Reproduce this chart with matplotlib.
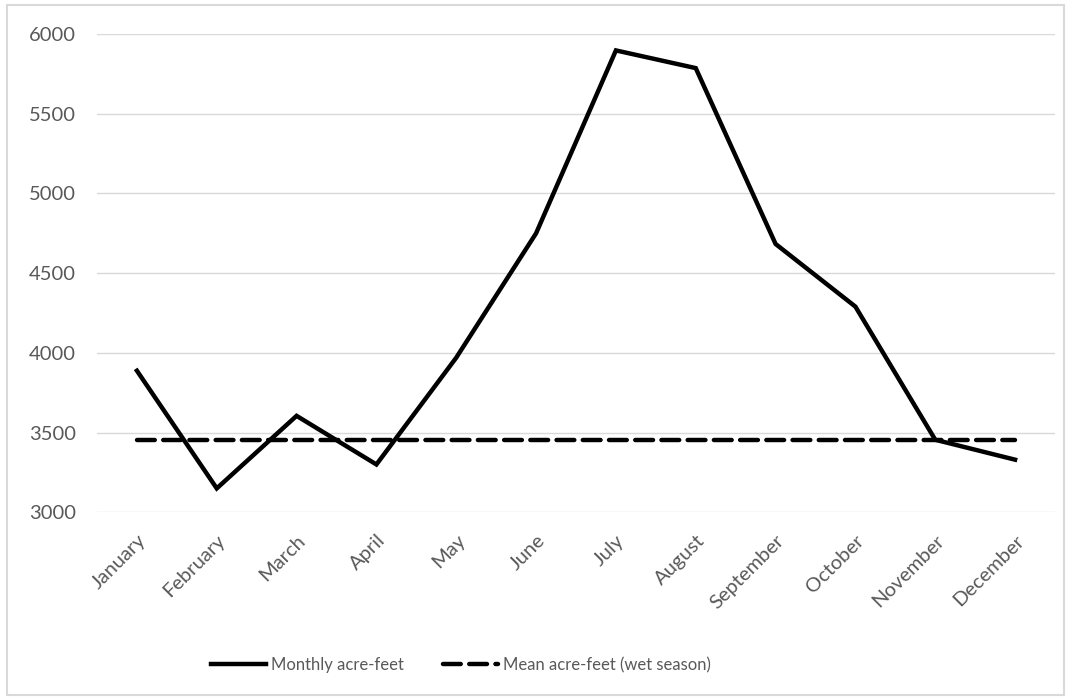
import matplotlib
matplotlib.use('Agg')
import matplotlib.pyplot as plt
from matplotlib.patches import FancyBboxPatch

plt.rcParams['font.family'] = ['Lato', 'DejaVu Sans']

months = ['January', 'February', 'March', 'April', 'May', 'June', 'July',
          'August', 'September', 'October', 'November', 'December']
monthly_af = [3888, 3150, 3605, 3300, 3970, 4750, 5897, 5786, 4683, 4290, 3455, 3330]
mean_wet = 3455
y_ticks = [3000, 3500, 4000, 4500, 5000, 5500, 6000]

text_color = '#595959'
grid_color = '#d9d9d9'

fig = plt.figure(figsize=(10.72, 7), dpi=100)
ax = fig.add_axes([97 / 1072, 1 - 512.3 / 700, (1055 - 97) / 1072, (512.3 - 34) / 700])

x = range(len(months))
ax.plot(x, monthly_af, color='black', lw=3.2, solid_joinstyle='miter',
        label='Monthly acre-feet')
ax.plot(x, [mean_wet] * len(months), color='black', lw=3.2, dashes=(4.0, 1.9),
        dash_capstyle='round', label='Mean acre-feet (wet season)')

ax.set_xlim(-0.5, len(months) - 0.5)
ax.set_ylim(3000, 6000)
ax.set_yticks(y_ticks)
ax.set_xticks(list(x))
ax.set_xticklabels(months, rotation=45, ha='right', rotation_mode='anchor')
ax.tick_params(length=0, labelsize=14.5, labelcolor=text_color)
ax.tick_params(axis='y', pad=15)
ax.tick_params(axis='x', pad=14)
ax.grid(axis='y', color=grid_color, lw=1)
ax.set_axisbelow(True)
for s in ax.spines.values():
    s.set_visible(False)

leg = fig.legend(loc='center', bbox_to_anchor=(461 / 1072, 1 - 665 / 700), ncol=2,
                 frameon=False, fontsize=12, handlelength=3.3, handletextpad=0.3,
                 columnspacing=2.3)
for t in leg.get_texts():
    t.set_color(text_color)

# light outer frame
fig.patches.append(FancyBboxPatch((7 / 1072, 5 / 700), 1057 / 1072, 690 / 700,
                                  boxstyle='square,pad=0', transform=fig.transFigure,
                                  fill=False, edgecolor=grid_color, lw=1.5))

fig.savefig('out.png', dpi=100)
